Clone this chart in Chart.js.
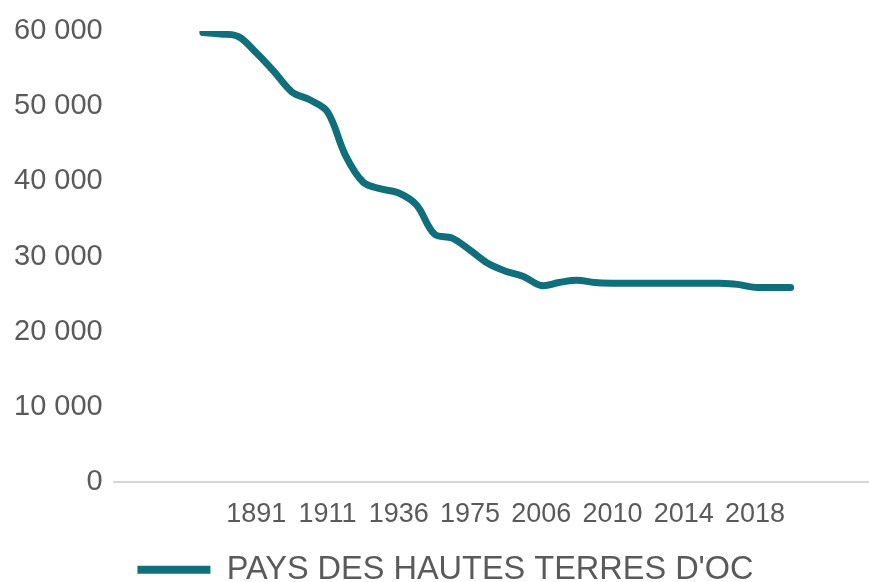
<!DOCTYPE html>
<html>
<head>
<meta charset="utf-8">
<script src="https://cdn.jsdelivr.net/npm/chart.js@4.4.0/dist/chart.umd.min.js"></script>
<style>
  html, body { margin: 0; padding: 0; background: #fff; }
  #wrap { width: 869px; height: 582px; position: relative; }
</style>
</head>
<body>
<div id="wrap"><canvas id="popChart"></canvas></div>
<script>
// census years (category per point)
const years = [1876, 1881, 1886, 1891, 1896, 1901, 1906, 1911, 1921, 1926, 1931, 1936,
  1954, 1962, 1968, 1975, 1982, 1990, 1999, 2006, 2007, 2008, 2009, 2010, 2011, 2012,
  2013, 2014, 2015, 2016, 2017, 2018, 2019, 2020];
// population
const population = [59800, 59600, 59250, 57100, 54600, 51900, 50850, 49250, 43500, 39900,
  39000, 38450, 36850, 33000, 32450, 30850, 29100, 28050, 27350, 26150, 26550, 26850,
  26550, 26450, 26450, 26450, 26450, 26450, 26450, 26450, 26300, 25900, 25900, 25900];
// years shown on the axis
const shownYears = [1891, 1911, 1936, 1975, 2006, 2010, 2014, 2018];
const yTicks = [0, 10000, 20000, 30000, 40000, 50000, 60000];
const seriesName = "PAYS DES HAUTES TERRES D'OC";

const teal = '#0f6f7b';
const grey = '#5a5a5a';
const fontFamily = '"Liberation Sans", Arial, sans-serif';

popChart();

function popChart(){
  const ctx = document.getElementById('popChart').getContext('2d');
  const points = population.map((v, i) => ({x: i, y: v}));
  const myChart = new Chart(ctx, {
    type: 'line',
    data: {
      datasets: [{
        label: seriesName,
        data: points,
        borderColor: teal,
        backgroundColor: teal,
        borderWidth: 7,
        pointRadius: 0,
        tension: 0.35,
        borderCapStyle: 'round'
      }]
    },
    options: {
      responsive: true,
      maintainAspectRatio: false,
      animation: false,
      // negative right padding nudges the legend a little right of centre
      layout: { padding: { left: 4, right: -18, top: 31, bottom: -14 } },
      scales: {
        x: {
          type: 'linear',
          min: -5.06,
          max: 37.4,
          grid: { display: false },
          border: { display: false },
          afterBuildTicks: (axis) => {
            axis.ticks = shownYears.map(y => ({ value: years.indexOf(y) }));
          },
          ticks: {
            color: grey,
            padding: 8,
            maxRotation: 0,
            autoSkip: false,
            font: { family: fontFamily, size: 27 },
            callback: (v) => years[v]
          }
        },
        y: {
          min: 0,
          max: 60000,
          afterBuildTicks: (axis) => {
            axis.ticks = yTicks.map(v => ({ value: v }));
          },
          border: { display: false },
          grid: {
            drawTicks: false,
            lineWidth: 2,
            color: (c) => c.tick && c.tick.value === 0 ? '#d6d6d6' : 'rgba(0,0,0,0)'
          },
          ticks: {
            color: grey,
            padding: 10,
            font: { family: fontFamily, size: 29 },
            callback: (v) => v.toLocaleString('en-US').replace(/,/g, ' ')
          }
        }
      },
      plugins: {
        tooltip: { enabled: false },
        legend: {
          position: 'bottom',
          labels: {
            color: grey,
            boxWidth: 73,
            boxHeight: 8,
            padding: 15,
            font: { family: fontFamily, size: 32.5 },
            generateLabels: (chart) => Chart.defaults.plugins.legend.labels.generateLabels(chart)
              .map(l => Object.assign(l, { lineWidth: 0 }))
          }
        }
      }
    }
  });
}
</script>
</body>
</html>
